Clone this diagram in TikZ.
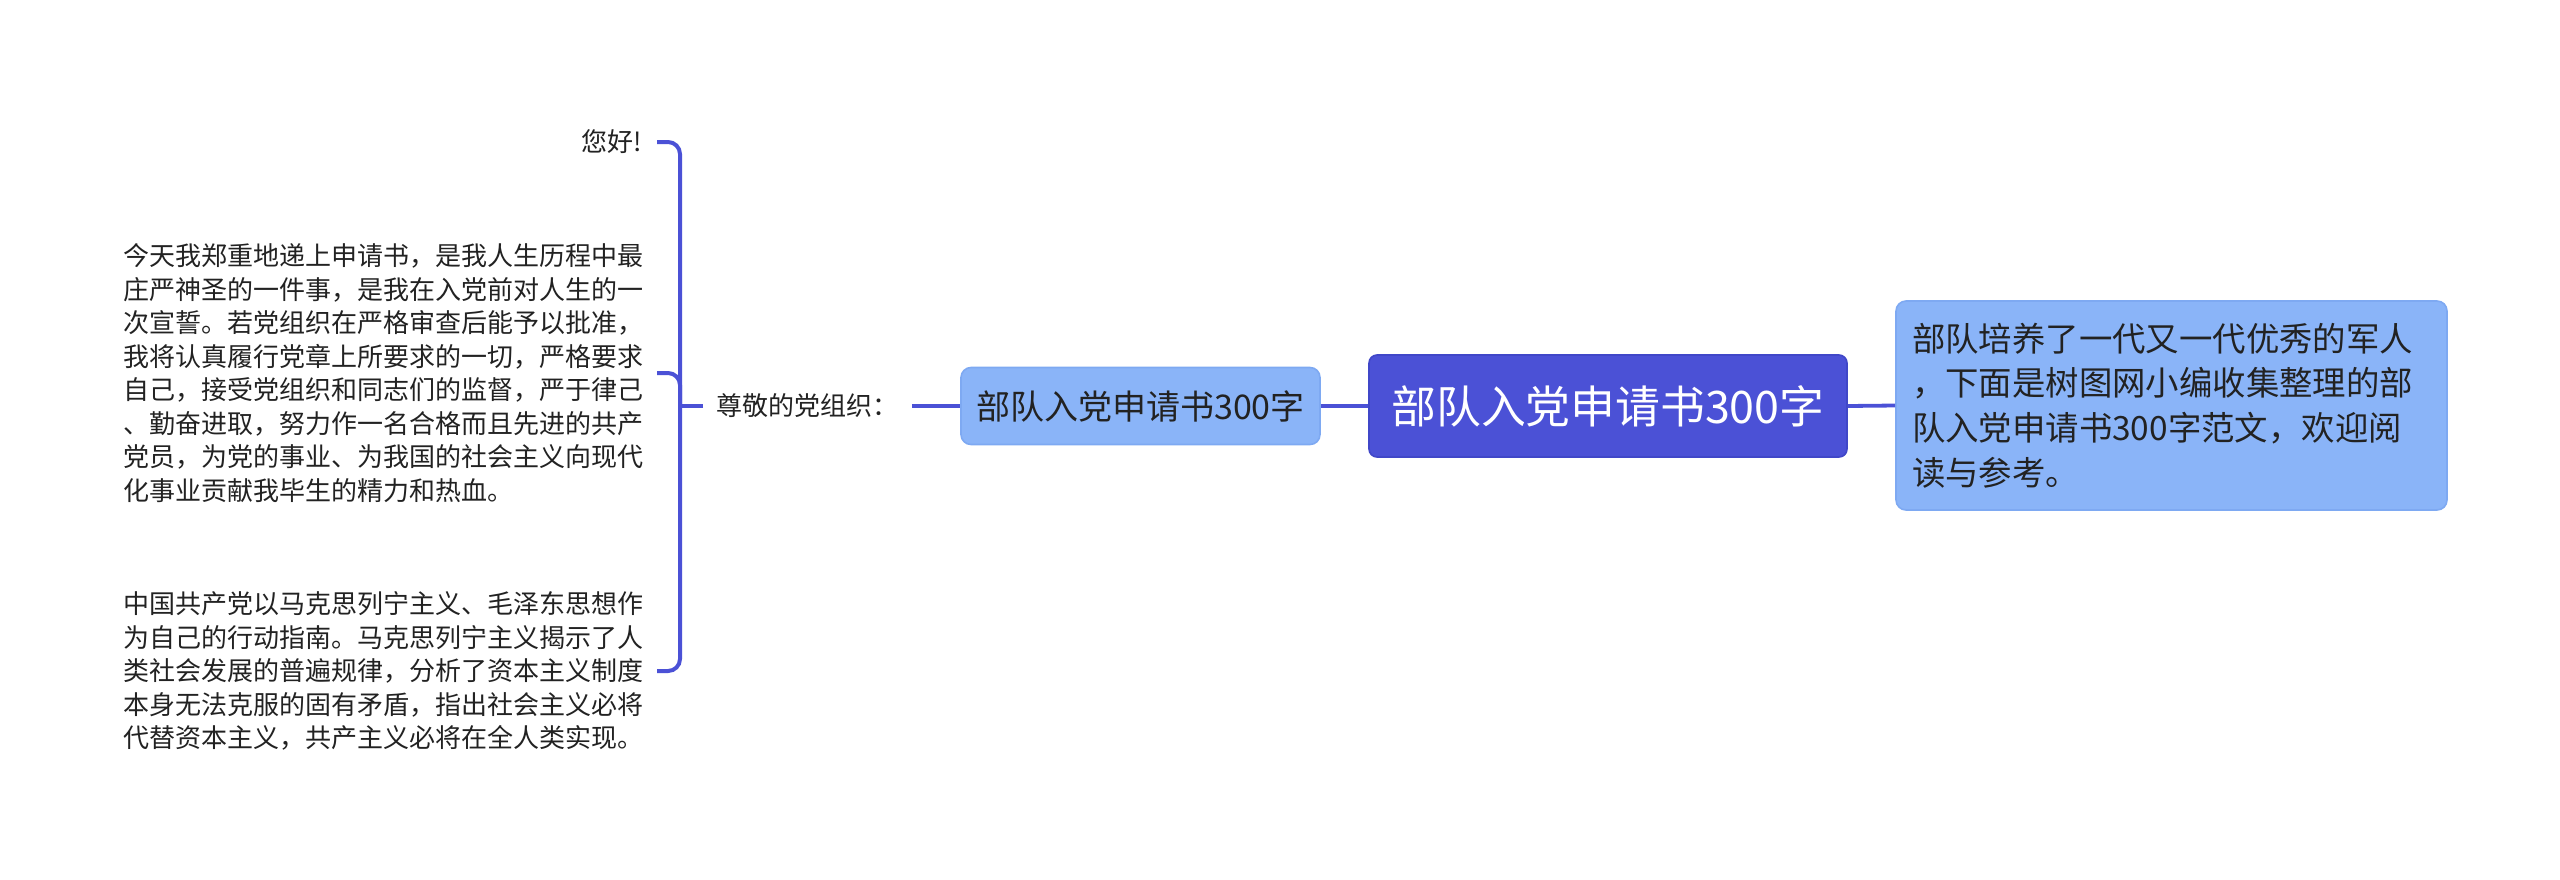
\documentclass[tikz,border=0pt]{standalone}
\usepackage{fontspec}
\setmainfont{Noto Sans CJK SC}
\definecolor{deepblue}{HTML}{4B51D6}
\definecolor{deepedge}{HTML}{4047C8}
\definecolor{lightblue}{HTML}{8AB4F8}
\definecolor{lightedge}{HTML}{7EA9F2}
\definecolor{inktext}{HTML}{222222}
\tikzset{
  rootbox/.style={draw=deepedge, line width=0.8pt, fill=deepblue, rounded corners=4pt,
    minimum width=239pt, minimum height=51pt, inner sep=0pt, text=white,
    font=\fontsize{22.4pt}{26pt}\selectfont},
  subbox/.style={draw=lightedge, line width=0.8pt, fill=lightblue, rounded corners=5pt,
    minimum width=179.5pt, minimum height=38.5pt, inner sep=0pt, text=inktext,
    font=\fontsize{17pt}{20pt}\selectfont},
  notebox/.style={draw=lightedge, line width=0.8pt, fill=lightblue, rounded corners=5pt,
    minimum height=104.5pt, text width=259.5pt, inner xsep=8pt, inner ysep=0pt, align=left, text=inktext,
    font=\fontsize{16.7pt}{22.4pt}\selectfont},
  leaftext/.style={inner sep=0pt, align=left, text=inktext,
    font=\fontsize{13pt}{16.75pt}\selectfont},
  labeltext/.style={inner xsep=6.5pt, inner ysep=0pt, text=inktext,
    font=\fontsize{13pt}{16pt}\selectfont},
  conn/.style={draw=deepblue, line width=1.9pt},
  bracket/.style={draw=deepblue, line width=2pt, rounded corners=6pt},
}
\begin{document}
\begin{tikzpicture}[x=0.5pt,y=-0.5pt]
\useasboundingbox (0,0) rectangle (2560,879);

\node[rootbox] (root) at (1608,406) {部队入党申请书300字};
\node[notebox] (note) at (2171.5,405.5) {部队培养了一代又一代优秀的军人\\，下面是树图网小编收集整理的部\\队入党申请书300字范文，欢迎阅\\读与参考。};
\node[subbox] (sub) at (1140.5,406) {部队入党申请书300字};
\node[labeltext, anchor=west] (zj) at (703,406) {尊敬的党组织：};

\node[leaftext, anchor=east] (hello) at (642,142) {您好!};
\node[leaftext, anchor=east] (vow) at (644,373) {今天我郑重地递上申请书，是我人生历程中最\\庄严神圣的一件事，是我在入党前对人生的一\\次宣誓。若党组织在严格审查后能予以批准，\\我将认真履行党章上所要求的一切，严格要求\\自己，接受党组织和同志们的监督，严于律己\\、勤奋进取，努力作一名合格而且先进的共产\\党员，为党的事业、为我国的社会主义向现代\\化事业贡献我毕生的精力和热血。};
\node[leaftext, anchor=east] (theory) at (644,671) {中国共产党以马克思列宁主义、毛泽东思想作\\为自己的行动指南。马克思列宁主义揭示了人\\类社会发展的普遍规律，分析了资本主义制度\\本身无法克服的固有矛盾，指出社会主义必将\\代替资本主义，共产主义必将在全人类实现。};

\draw[conn] (root.east) -- (note.west);
\draw[conn] (sub.east) -- (root.west);
\draw[conn] (zj.east) -- (sub.west);

\coordinate (hub) at (680,406);
\draw[bracket] (zj.west) -- (hub);
\draw[bracket] (hub) |- ([xshift=7.5pt]hello.east);
\draw[bracket] (hub) |- ([xshift=6.5pt]vow.east);
\draw[bracket] (hub) |- ([xshift=6.5pt]theory.east);
\end{tikzpicture}
\end{document}
